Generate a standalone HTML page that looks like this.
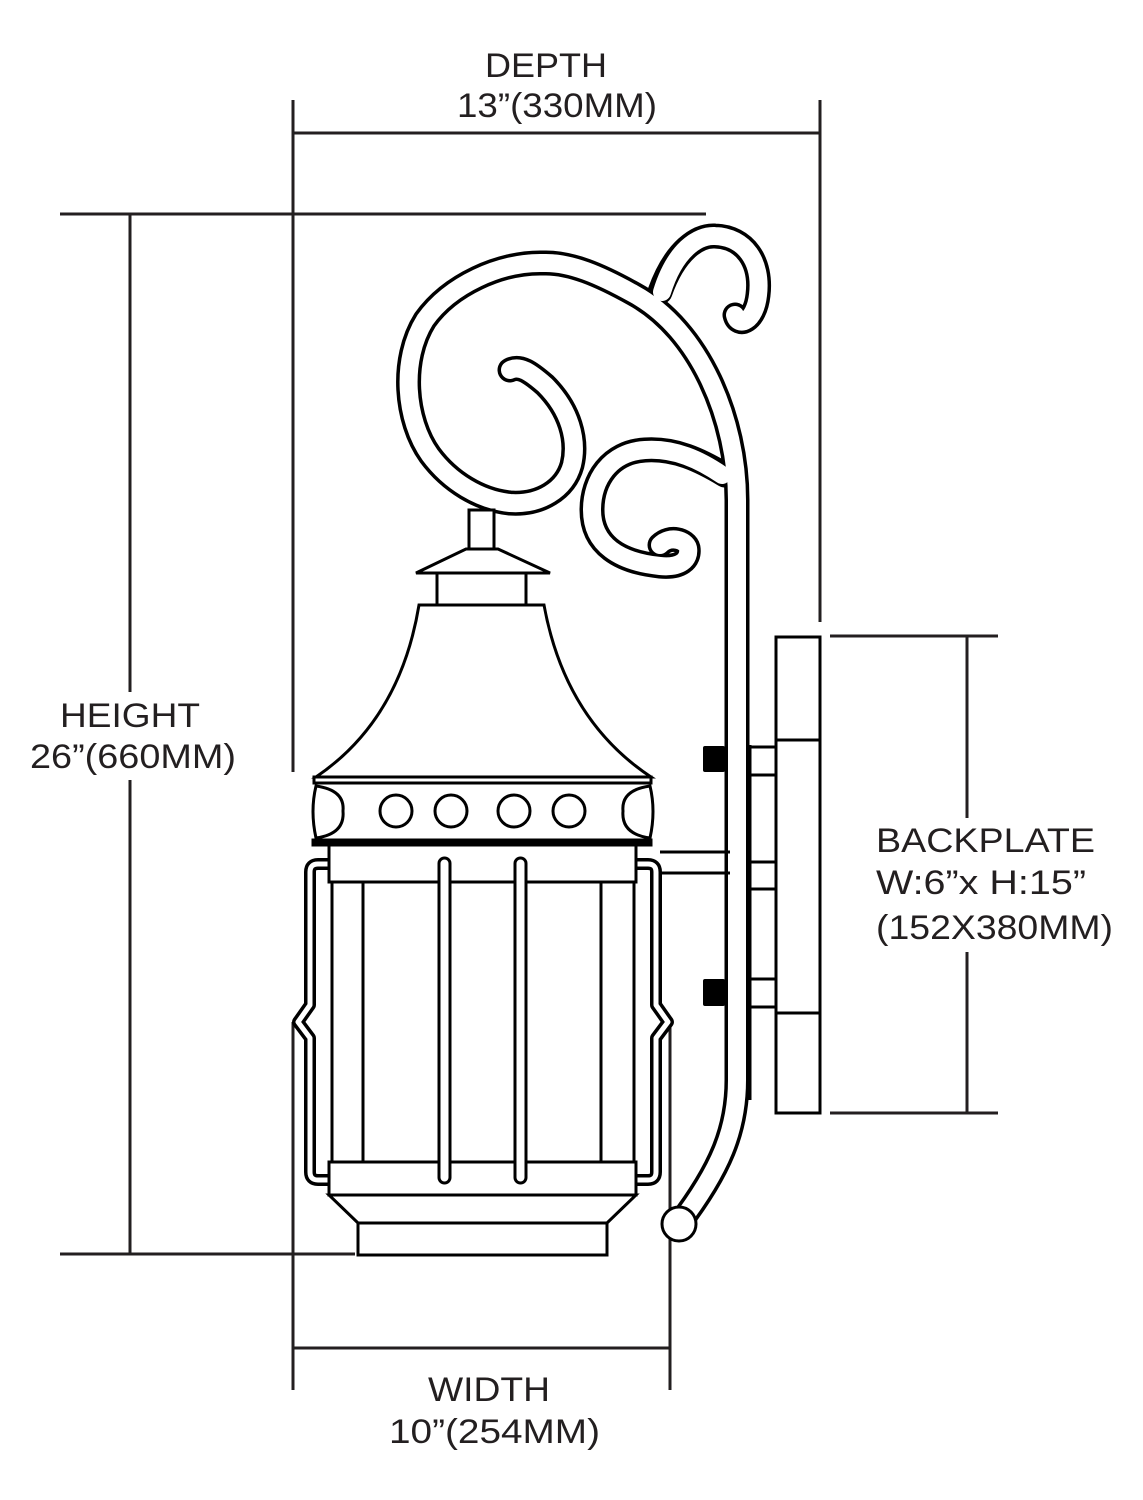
<!DOCTYPE html>
<html><head><meta charset="utf-8"><style>html,body{margin:0;padding:0;background:#fff}svg{display:block}</style></head>
<body>
<svg width="1143" height="1500" viewBox="0 0 1143 1500" xmlns="http://www.w3.org/2000/svg">
<g stroke="#231f20" stroke-width="3" fill="none">
<line x1="293" y1="100" x2="293" y2="772"/>
<line x1="820" y1="100" x2="820" y2="622"/>
<line x1="293" y1="133" x2="820" y2="133"/>
<line x1="60" y1="214" x2="706" y2="214"/>
<line x1="60" y1="1254" x2="355" y2="1254"/>
<line x1="130" y1="214" x2="130" y2="692"/>
<line x1="130" y1="780" x2="130" y2="1254"/>
<line x1="830" y1="636" x2="998" y2="636"/>
<line x1="830" y1="1113" x2="998" y2="1113"/>
<line x1="967" y1="636" x2="967" y2="818"/>
<line x1="967" y1="952" x2="967" y2="1113"/>
<line x1="293" y1="1022" x2="293" y2="1390"/>
<line x1="670" y1="1022" x2="670" y2="1390"/>
<line x1="293" y1="1348" x2="670" y2="1348"/>
</g>
<g font-family="Liberation Sans, Arial, sans-serif" font-size="34" fill="#231f20">
<text x="485" y="77" textLength="122" lengthAdjust="spacingAndGlyphs">DEPTH</text>
<text x="457" y="117" textLength="200" lengthAdjust="spacingAndGlyphs">13”(330MM)</text>
<text x="60" y="727" textLength="140" lengthAdjust="spacingAndGlyphs">HEIGHT</text>
<text x="30" y="768" textLength="206" lengthAdjust="spacingAndGlyphs">26”(660MM)</text>
<text x="876" y="852" textLength="219" lengthAdjust="spacingAndGlyphs">BACKPLATE</text>
<text x="876" y="894" textLength="210" lengthAdjust="spacingAndGlyphs">W:6”x H:15”</text>
<text x="876" y="939" textLength="237" lengthAdjust="spacingAndGlyphs">(152X380MM)</text>
<text x="428" y="1401" textLength="122" lengthAdjust="spacingAndGlyphs">WIDTH</text>
<text x="389" y="1443" textLength="211" lengthAdjust="spacingAndGlyphs">10”(254MM)</text>
</g>
<g fill="none" stroke-linecap="round" stroke-linejoin="round">
<g stroke="#000" stroke-width="25">
<path d="M679,1224 C720,1170 737,1130 737,1080 L737,500 C737,420 700,330 634,294 C600,275 570,262 543,263 C500,262 450,285 425,320 C400,360 405,420 430,455 C450,482 480,500 510,503 C540,505 565,490 572,465 C578,440 570,410 545,385 C530,372 520,365 510,370"/>
<path d="M660,292 C675,250 698,235 715,236 C745,237 762,262 758,295 C755,322 738,328 735,315"/>
<path d="M725,475 C700,460 675,448 645,450 C610,452 592,480 592,510 C592,545 620,562 660,566 C680,568 690,560 688,548 C686,540 670,535 660,545"/>
</g>
<g stroke="#fff" stroke-width="18">
<path d="M679,1224 C720,1170 737,1130 737,1080 L737,500 C737,420 700,330 634,294 C600,275 570,262 543,263 C500,262 450,285 425,320 C400,360 405,420 430,455 C450,482 480,500 510,503 C540,505 565,490 572,465 C578,440 570,410 545,385 C530,372 520,365 510,370"/>
<path d="M662,292 C675,250 698,235 715,236 C745,237 762,262 758,295 C755,322 738,328 735,315"/>
<path d="M722,475 C700,460 675,448 645,450 C610,452 592,480 592,510 C592,545 620,562 660,566 C680,568 690,560 688,548 C686,540 670,535 660,545"/>
</g>
<g stroke="#000" stroke-width="12">
<path d="M330,864 L318,864 Q310,864 310,872 L310,1005 L298,1022 L310,1038 L310,1172 Q310,1180 318,1180 L330,1180"/>
<path d="M636,864 L648,864 Q656,864 656,872 L656,1005 L668,1022 L656,1038 L656,1172 Q656,1180 648,1180 L636,1180"/>
</g>
<g stroke="#fff" stroke-width="5">
<path d="M330,864 L318,864 Q310,864 310,872 L310,1005 L298,1022 L310,1038 L310,1172 Q310,1180 318,1180 L330,1180"/>
<path d="M636,864 L648,864 Q656,864 656,872 L656,1005 L668,1022 L656,1038 L656,1172 Q656,1180 648,1180 L636,1180"/>
</g>
</g>
<g stroke="#000" stroke-width="3" fill="#fff">
<circle cx="679" cy="1224" r="17"/>
<rect x="469" y="510" width="25" height="39"/>
<polygon points="466,549 498,549 550,573 416,573"/>
<rect x="437" y="573" width="89" height="32"/>
<path d="M419,605 Q400,720 316,777 L651,777 Q565,720 544,605 Z"/>
<rect x="314" y="777" width="337" height="6"/>
<path d="M326,783 L640,783 M326,842 L640,842" />
<circle cx="396" cy="811" r="16"/>
<circle cx="451" cy="811" r="16"/>
<circle cx="514" cy="811" r="16"/>
<circle cx="569" cy="811" r="16"/>
<path d="M316,786 Q345,790 343,811 Q345,834 316,838 Q310,811 316,786 Z"/>
<path d="M650,786 Q621,790 623,811 Q621,834 650,838 Q656,811 650,786 Z"/>
<rect x="313" y="840" width="338" height="5" fill="#000"/>
<rect x="329" y="845" width="307" height="37"/>
<rect x="332" y="882" width="302" height="280"/>
<line x1="363" y1="882" x2="363" y2="1162"/>
<line x1="601" y1="882" x2="601" y2="1162"/>
<rect x="329" y="1162" width="307" height="33"/>
<polygon points="329,1195 636,1195 607,1223 358,1223"/>
<rect x="358" y="1223" width="249" height="32"/>
<rect x="439" y="858" width="11" height="325" rx="5.5"/>
<rect x="515" y="858" width="11" height="325" rx="5.5"/>
<line x1="660" y1="852" x2="730" y2="852"/>
<line x1="660" y1="873" x2="730" y2="873"/>
<rect x="776" y="637" width="44" height="476"/>
<line x1="776" y1="740" x2="820" y2="740"/>
<line x1="776" y1="1013" x2="820" y2="1013"/>
<line x1="750" y1="745" x2="750" y2="1100"/>
<line x1="750" y1="747" x2="776" y2="747"/>
<line x1="750" y1="775" x2="776" y2="775"/>
<line x1="750" y1="862" x2="776" y2="862"/>
<line x1="750" y1="889" x2="776" y2="889"/>
<line x1="750" y1="979" x2="776" y2="979"/>
<line x1="750" y1="1007" x2="776" y2="1007"/>
</g>
<rect x="703" y="746" width="22" height="26" rx="2" fill="#000"/>
<rect x="703" y="979" width="22" height="27" rx="2" fill="#000"/>
</svg>
</body></html>
